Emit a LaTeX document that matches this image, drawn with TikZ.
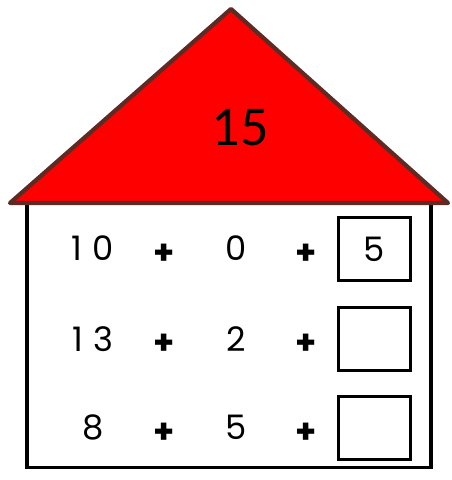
\documentclass[tikz,border=0pt]{standalone}
\usepackage{fontspec}
\setmainfont{Carlito}
\newfontfamily\gothic[LetterSpace=30]{Poppins}
\definecolor{roofred}{HTML}{FF0000}
\definecolor{roofedge}{HTML}{5E2A24}
\begin{document}
\begin{tikzpicture}[x=0.025cm, y=-0.025cm]
    \tikzset{
      num/.style={font=\gothic\fontsize{24}{26}\selectfont, inner sep=0pt},
      plus/.style={font=\gothic\bfseries\fontsize{24}{26}\selectfont, inner sep=0pt},
      answer/.style={draw, line width=2.1pt, minimum width=1.8cm,
                     minimum height=1.58cm, inner sep=0pt,
                     font=\gothic\fontsize{24}{26}\selectfont},
    }
    \useasboundingbox (0,0) rectangle (452,480);

    % house body and roof
    \node[draw, line width=2.3pt, minimum width=10.1cm, minimum height=6.6cm,
          inner sep=0pt] (body) at (229,335.5) {};
    \coordinate (apex) at (231,9);
    \coordinate (eaveL) at (10,203);
    \coordinate (eaveR) at (448,203);
    \draw[fill=roofred, draw=roofedge, line width=3pt, line join=round]
      (eaveL) -- (apex) -- (eaveR) -- cycle;
    \node[font=\fontsize{40}{44}\selectfont] (total) at (240,128) {15};

    % rows
    \node[num] (a1) at (93,248) {10};
    \node[plus] (p1) at (164,254) {+};
    \node[num] (b1) at (236,248) {0};
    \node[plus] (q1) at (306,254) {+};
    \node[answer] (c1) at (374.5,249) {5};

    \node[num] (a2) at (93,339) {13};
    \node[plus] (p2) at (164,344) {+};
    \node[num] (b2) at (236,339) {2};
    \node[plus] (q2) at (306,344) {+};
    \node[answer] (c2) at (374.5,339) {};

    \node[num] (a3) at (93,427) {8};
    \node[plus] (p3) at (164,433) {+};
    \node[num] (b3) at (236,427) {5};
    \node[plus] (q3) at (306,433) {+};
    \node[answer] (c3) at (374.5,428) {};
\end{tikzpicture}
\end{document}
